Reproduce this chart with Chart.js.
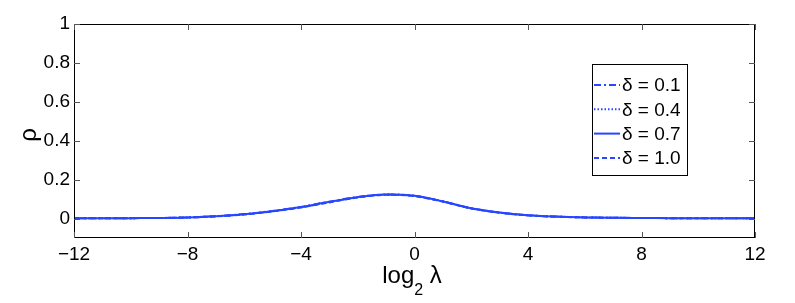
<!DOCTYPE html>
<html>
<head>
<meta charset="utf-8">
<script src="https://cdn.jsdelivr.net/npm/chart.js@4.4.1/dist/chart.umd.min.js"></script>
<style>
  html, body { margin: 0; padding: 0; background: #fff; }
  #wrap { width: 795px; height: 303px; }
</style>
</head>
<body>
<div id="wrap"><canvas id="rhoChart" width="795" height="303"></canvas></div>
<script>
// values
const lambdaLog = [-12, -11, -10, -9, -8, -7, -6, -5, -4, -3, -2, -1, 0, 1, 2, 3, 4, 5, 6, 7, 8, 9, 10, 11, 12];
const rho01 = [0.001, 0.001, 0.002, 0.003, 0.006, 0.012, 0.023, 0.039, 0.060, 0.087, 0.111, 0.124, 0.117, 0.089, 0.053, 0.031, 0.017, 0.010, 0.006, 0.004, 0.003, 0.002, 0.001, 0.001, 0.001];
const rho04 = [0.001, 0.001, 0.002, 0.003, 0.006, 0.012, 0.022, 0.038, 0.058, 0.085, 0.110, 0.123, 0.116, 0.088, 0.052, 0.030, 0.017, 0.010, 0.006, 0.004, 0.003, 0.002, 0.001, 0.001, 0.001];
const rho07 = [0.001, 0.001, 0.002, 0.003, 0.006, 0.012, 0.022, 0.038, 0.059, 0.086, 0.110, 0.124, 0.117, 0.088, 0.053, 0.031, 0.017, 0.010, 0.006, 0.004, 0.003, 0.002, 0.001, 0.001, 0.001];
const rho10 = [0.001, 0.001, 0.002, 0.003, 0.005, 0.011, 0.021, 0.037, 0.057, 0.083, 0.108, 0.122, 0.115, 0.087, 0.052, 0.030, 0.016, 0.009, 0.006, 0.004, 0.003, 0.002, 0.001, 0.001, 0.001];
const seriesLabels = ["δ = 0.1", "δ = 0.4", "δ = 0.7", "δ = 1.0"];
const xTicks = [-12, -8, -4, 0, 4, 8, 12];
const yTicks = [0, 0.2, 0.4, 0.6, 0.8, 1];

const BLUE = "#2846ff";
const FONT = "'Liberation Sans', Arial, sans-serif";
const dashes = [[7, 3, 2, 3], [1.5, 2], [], [5, 3]];

function toPoints(ys) {
    return lambdaLog.map(function (x, i) {
        return { x: x, y: ys[i] };
    });
}

function fmtTick(v) {
    if (v < 0) return "\u2212" + Math.abs(v);
    return String(Math.round(v * 10) / 10);
}

/* ================================
   Frame, inward ticks, titles, legend
================================ */
const matlabLook = {
    id: "matlabLook",
    afterDraw: function (chart) {
        const ctx = chart.ctx;
        const a = chart.chartArea;
        const xs = chart.scales.x;
        const ys = chart.scales.y;
        ctx.save();

        // box
        ctx.strokeStyle = "#000";
        ctx.lineWidth = 1;
        ctx.strokeRect(a.left + 0.5, a.top + 0.5, a.right - a.left - 1, a.bottom - a.top - 1);

        // inward ticks
        ctx.strokeStyle = "#555";
        ctx.beginPath();
        xTicks.forEach(function (t) {
            const px = Math.round(xs.getPixelForValue(t)) + 0.5;
            ctx.moveTo(px, a.bottom); ctx.lineTo(px, a.bottom - 6);
            ctx.moveTo(px, a.top); ctx.lineTo(px, a.top + 6);
        });
        yTicks.forEach(function (t) {
            const py = Math.round(ys.getPixelForValue(t)) + 0.5;
            ctx.moveTo(a.left, py); ctx.lineTo(a.left + 6, py);
            ctx.moveTo(a.right, py); ctx.lineTo(a.right - 6, py);
        });
        ctx.stroke();

        // y title
        ctx.fillStyle = "#000";
        ctx.font = "24px " + FONT;
        ctx.textAlign = "center";
        ctx.textBaseline = "middle";
        ctx.save();
        ctx.translate(29, 135);
        ctx.rotate(-Math.PI / 2);
        ctx.fillText("ρ", 0, 0);
        ctx.restore();

        // x title with subscript
        ctx.textAlign = "left";
        ctx.textBaseline = "alphabetic";
        const cx = 412;
        ctx.font = "24px " + FONT;
        const w1 = ctx.measureText("log").width;
        ctx.font = "16px " + FONT;
        const w2 = ctx.measureText("2").width;
        ctx.font = "24px " + FONT;
        const w3 = ctx.measureText(" λ").width;
        const x0 = cx - (w1 + w2 + w3) / 2;
        const base = 283;
        ctx.fillText("log", x0, base);
        ctx.font = "16px " + FONT;
        ctx.fillText("2", x0 + w1, base + 12);
        ctx.font = "24px " + FONT;
        ctx.fillText(" λ", x0 + w1 + w2, base);

        // legend
        const lx = 592, ly = 64, lw = 95, lh = 111;
        ctx.fillStyle = "#fff";
        ctx.fillRect(lx, ly, lw, lh);
        ctx.strokeStyle = "#000";
        ctx.lineWidth = 1;
        ctx.strokeRect(lx + 0.5, ly + 0.5, lw, lh);
        ctx.font = "19px " + FONT;
        ctx.textBaseline = "middle";
        chart.data.datasets.forEach(function (ds, i) {
            const ry = 85 + i * 24.3;
            ctx.strokeStyle = ds.borderColor;
            ctx.lineWidth = ds.borderWidth;
            ctx.setLineDash(ds.borderDash || []);
            ctx.beginPath();
            ctx.moveTo(594, ry);
            ctx.lineTo(620, ry);
            ctx.stroke();
            ctx.setLineDash([]);
            ctx.fillStyle = "#000";
            ctx.fillText(ds.label, 622, ry + 1);
        });
        ctx.restore();
    },
};

const allSeries = [rho01, rho04, rho07, rho10];

new Chart(document.getElementById("rhoChart").getContext("2d"), {
    type: "line",
    data: {
        datasets: allSeries.map(function (ys, i) {
            return {
                label: seriesLabels[i],
                data: toPoints(ys),
                borderColor: BLUE,
                borderWidth: 2,
                borderDash: dashes[i],
                pointRadius: 0,
                cubicInterpolationMode: "monotone",
                fill: false,
            };
        }),
    },
    options: {
        responsive: false,
        animation: false,
        layout: { padding: { top: 24, right: 40, left: 0, bottom: 0 } },
        plugins: {
            legend: { display: false },
            tooltip: { enabled: false },
        },
        scales: {
            x: {
                type: "linear",
                min: -12,
                max: 12,
                grid: { display: false, drawTicks: false },
                border: { display: false },
                afterBuildTicks: function (s) {
                    s.ticks = xTicks.map(function (v) { return { value: v }; });
                },
                afterFit: function (s) { s.height = 65; },
                ticks: {
                    color: "#000",
                    padding: 5,
                    maxRotation: 0,
                    font: { family: FONT, size: 19 },
                    callback: function (v) { return fmtTick(v); },
                },
            },
            y: {
                min: -0.1,
                max: 1,
                grid: { display: false, drawTicks: false },
                border: { display: false },
                afterBuildTicks: function (s) {
                    s.ticks = yTicks.map(function (v) { return { value: v }; });
                },
                afterFit: function (s) { s.width = 74; },
                ticks: {
                    color: "#000",
                    padding: 4,
                    font: { family: FONT, size: 19 },
                    callback: function (v) { return fmtTick(v); },
                },
            },
        },
    },
    plugins: [matlabLook],
});
</script>
</body>
</html>
